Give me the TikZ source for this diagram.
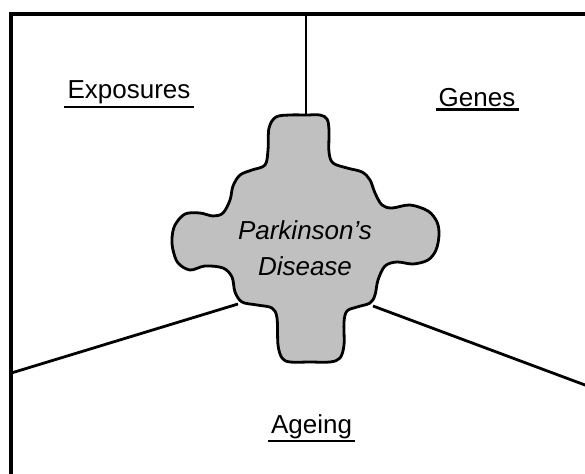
\documentclass[tikz,border=0pt]{standalone}
\usepackage{fontspec}
\setmainfont{Liberation Sans}
\usepackage{tikz}

\definecolor{blobgray}{RGB}{192,192,192}

\begin{document}
\begin{tikzpicture}[x=1pt,y=-1pt,
  topic/.style={font=\fontsize{26}{36}\selectfont,inner xsep=3pt,inner ysep=2.5pt,anchor=base},
  rule/.style={line width=2.7pt},
  link/.style={line width=2.8pt},
  blob/.style={draw,line width=2.8pt,fill=blobgray}]
  \useasboundingbox (0,0) rectangle (585,473);
  \clip (0,0) rectangle (585,473);
  \draw [line width=4pt] (11.3,13.7) rectangle (610,500);

  \coordinate (frametop) at (306,13.7);
  \coordinate (frameleft) at (11.3,373);
  \coordinate (frameright) at (600,390.6);
  \coordinate (pdtop) at (306,115);
  \coordinate (pdleft) at (238,304);
  \coordinate (pdright) at (373,306);

  \draw [link] (frametop) -- (pdtop);
  \draw [link] (frameleft) -- (pdleft);
  \draw [link] (frameright) -- (pdright);

  \draw [blob] plot [smooth cycle,tension=0.55] coordinates {
    (268,150) (269,128) (276,117) (290,115) (306,115) (320,115) (327,119)
    (329,130) (329,152) (333,163) (347,168) (362,172) (370,180) (375,193)
    (382,205) (392,208) (410,205) (428,211) (437,222) (439,235) (436,250)
    (428,260) (413,264) (397,262) (385,266) (378,280) (375,295) (370,303)
    (357,307) (347,311) (344,322) (344,345) (340,358) (330,362) (310,362)
    (290,362) (282,358) (278,345) (277,318) (272,308) (257,305) (242,302)
    (235,292) (232,277) (223,268) (205,266) (190,270) (178,263) (173,250)
    (172,238) (175,225) (185,214) (200,213) (213,216) (223,213) (230,200)
    (233,186) (240,175) (252,170) (265,165)};

  \node [font=\fontsize{26}{36}\selectfont\itshape,align=center] (pd) at (305,248)
    {Parkinson’s\\Disease};

  \node [topic] (exposures) at (129,99) {Exposures};
  \node [topic] (genes) at (477,106.5) {Genes};
  \node [topic] (ageing) at (311.5,433) {Ageing};
  \foreach \n in {exposures,genes,ageing}
    \draw [rule] (\n.south west) -- (\n.south east);
\end{tikzpicture}
\end{document}
